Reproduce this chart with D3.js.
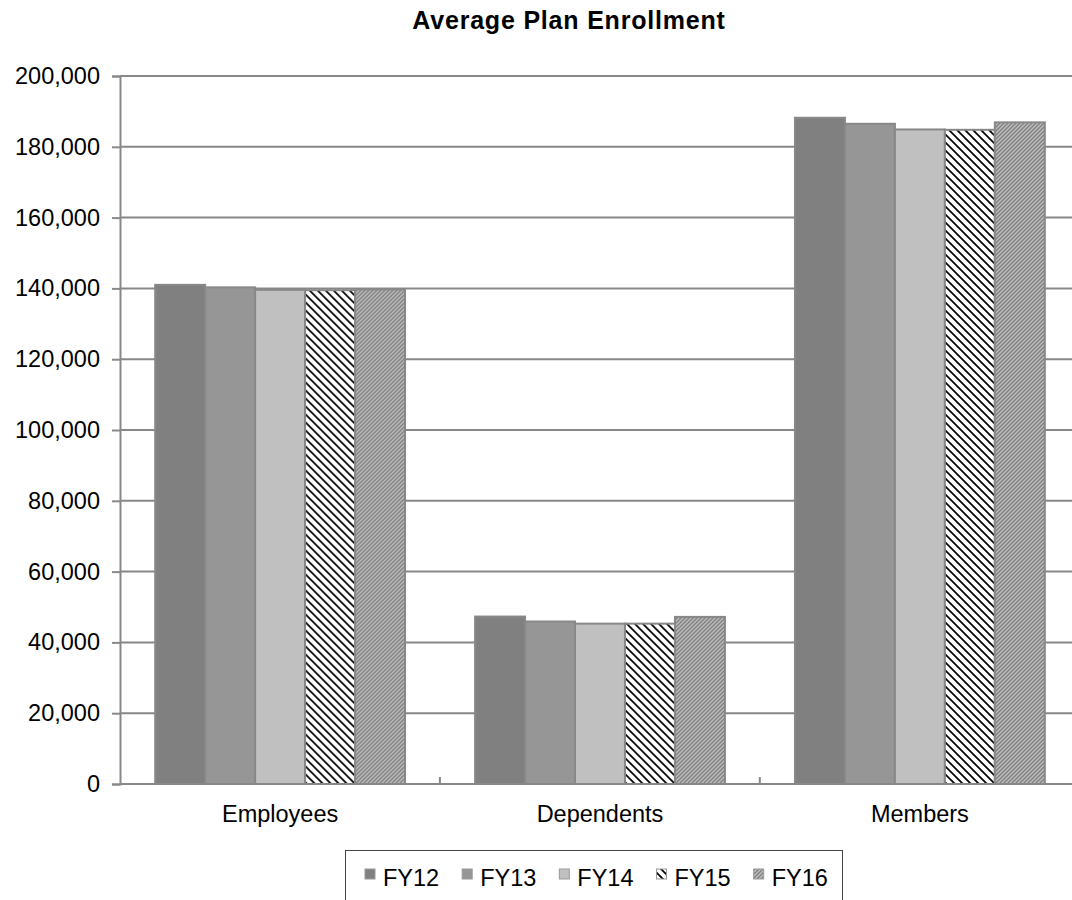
<!DOCTYPE html>
<html>
<head>
<meta charset="utf-8">
<script src="https://cdn.jsdelivr.net/npm/d3@7"></script>
<style>
  body { margin: 0; background: #fff; }
  text { font-family: "Liberation Sans", Arial, sans-serif; }
</style>
</head>
<body>
<div id="chart"></div>
<script>
// data
var categories = ["Employees", "Dependents", "Members"];
var seriesNames = ["FY12", "FY13", "FY14", "FY15", "FY16"];
var fy12 = [141000, 47300, 188200];
var fy13 = [140300, 45900, 186500];
var fy14 = [139600, 45300, 184900];
var fy15 = [139500, 45300, 184800];
var fy16 = [139700, 47200, 186900];
var yTicks = [0, 20000, 40000, 60000, 80000, 100000, 120000, 140000, 160000, 180000, 200000];

var seriesValues = [fy12, fy13, fy14, fy15, fy16];
var fills = ["#808080", "#969696", "#c0c0c0", "url(#p15)", "url(#p16)"];

var width = 1072, height = 900;
var plotLeft = 120, plotRight = 1080, plotTop = 76, plotBottom = 784;
var fontSize = "23.5px";

var svg = d3.select("#chart").append("svg")
    .attr("width", width)
    .attr("height", height);

// hatch patterns
var defs = svg.append("defs");
var p15 = defs.append("pattern").attr("id", "p15")
    .attr("patternUnits", "userSpaceOnUse").attr("width", 8).attr("height", 8);
p15.append("rect").attr("width", 8).attr("height", 8).attr("fill", "#fff");
p15.append("path").attr("d", "M0,0L8,8M-2,6L2,10M6,-2L10,2")
    .attr("stroke", "#000").attr("stroke-width", 1.7);

var p16 = defs.append("pattern").attr("id", "p16")
    .attr("patternUnits", "userSpaceOnUse").attr("width", 4).attr("height", 4);
p16.append("rect").attr("width", 4).attr("height", 4).attr("fill", "#c0c0c0");
p16.append("path").attr("d", "M0,4L4,0M-1,1L1,-1M3,5L5,3")
    .attr("stroke", "#808080").attr("stroke-width", 1.5);

var x = d3.scaleBand().domain(categories).range([plotLeft, plotRight])
    .paddingInner(0.219).paddingOuter(0.11);
var xs = d3.scaleBand().domain(seriesNames).range([0, x.bandwidth()]);
var y = d3.scaleLinear().domain([0, 200000]).range([plotBottom, plotTop]);

// title
svg.append("text")
    .attr("x", 569).attr("y", 29)
    .attr("text-anchor", "middle")
    .style("font-size", "25px").style("font-weight", "bold")
    .style("letter-spacing", "0.8px")
    .text("Average Plan Enrollment");

// gridlines
svg.append("g").selectAll("line")
    .data(yTicks.slice(1))
    .enter().append("line")
    .attr("x1", plotLeft).attr("x2", plotRight)
    .attr("y1", function (d) { return y(d); })
    .attr("y2", function (d) { return y(d); })
    .attr("stroke", "#888").attr("stroke-width", 2);

// y axis
var yAxis = d3.axisLeft(y).tickValues(yTicks)
    .tickFormat(d3.format(",")).tickSize(8).tickPadding(12);
var gy = svg.append("g").attr("transform", "translate(" + plotLeft + ",0)").call(yAxis);
gy.select(".domain").attr("stroke", "#888").attr("stroke-width", 2);
gy.selectAll(".tick line").attr("stroke", "#888").attr("stroke-width", 2);
gy.selectAll(".tick text").attr("fill", "#000")
    .style("font-size", fontSize).style("font-family", "'Liberation Sans', Arial, sans-serif");

// bars
var groups = svg.append("g").selectAll("g")
    .data(categories)
    .enter().append("g")
    .attr("transform", function (d) { return "translate(" + x(d) + ",0)"; });

groups.selectAll("rect")
    .data(function (d, i) {
        return seriesNames.map(function (s, j) {
            return { name: s, value: seriesValues[j][i], fill: fills[j] };
        });
    })
    .enter().append("rect")
    .attr("x", function (d) { return xs(d.name); })
    .attr("width", xs.bandwidth())
    .attr("y", function (d) { return y(d.value); })
    .attr("height", function (d) { return plotBottom - y(d.value); })
    .attr("fill", function (d) { return d.fill; })
    .attr("stroke", "#888").attr("stroke-width", 2);

// x axis
svg.append("line")
    .attr("x1", plotLeft).attr("x2", plotRight)
    .attr("y1", plotBottom).attr("y2", plotBottom)
    .attr("stroke", "#888").attr("stroke-width", 2);

var step = x.step();
svg.append("g").selectAll("line")
    .data(d3.range(1, categories.length))
    .enter().append("line")
    .attr("x1", function (d) { return plotLeft + d * step; })
    .attr("x2", function (d) { return plotLeft + d * step; })
    .attr("y1", plotBottom).attr("y2", plotBottom - 7)
    .attr("stroke", "#888").attr("stroke-width", 2);

svg.append("g").selectAll("text")
    .data(categories)
    .enter().append("text")
    .attr("x", function (d) { return x(d) + x.bandwidth() / 2; })
    .attr("y", 822)
    .attr("text-anchor", "middle")
    .style("font-size", fontSize)
    .text(function (d) { return d; });

// legend
var legend = svg.append("g");
legend.append("rect")
    .attr("x", 345.5).attr("y", 850.5)
    .attr("width", 497).attr("height", 80)
    .attr("fill", "#fff").attr("stroke", "#444").attr("stroke-width", 1);

var lx = 365;
seriesNames.forEach(function (s, j) {
    legend.append("rect")
        .attr("x", lx).attr("y", 869).attr("width", 10).attr("height", 10)
        .attr("fill", fills[j]).attr("stroke", "#999").attr("stroke-width", 1);
    var t = legend.append("text")
        .attr("x", lx + 18).attr("y", 886)
        .style("font-size", fontSize)
        .text(s);
    lx += 18 + t.node().getComputedTextLength() + 23;
});
</script>
</body>
</html>
